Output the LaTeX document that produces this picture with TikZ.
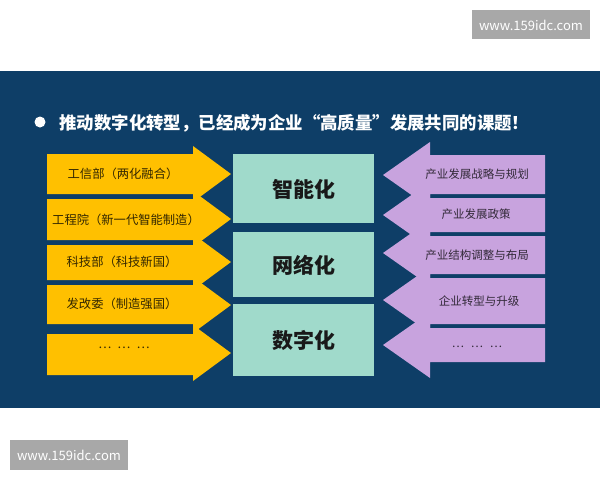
\documentclass[tikz,border=0pt]{standalone}
\usepackage{fontspec}
\usepackage{xcolor}
\usetikzlibrary{calc,positioning}
\newfontfamily\cjk{Noto Sans CJK SC}
\definecolor{panelblue}{HTML}{0E3E67}
\definecolor{goldarrow}{HTML}{FFC000}
\definecolor{mintbox}{HTML}{A0DACB}
\definecolor{lilacarrow}{HTML}{C8A3DE}
\definecolor{markgray}{HTML}{A8A8A8}

\begin{document}
\begin{tikzpicture}[x=1pt, y=-1pt,
	goldshape/.style={fill=goldarrow, draw=none},
	lilacshape/.style={fill=lilacarrow, draw=none},
	mintshape/.style={fill=mintbox, draw=none},
	goldtext/.style={font=\cjk\fontsize{12.3}{14}\selectfont, text=black!80!goldarrow},
	lilactext/.style={font=\cjk\fontsize{11.5}{14}\selectfont, text=black!75!lilacarrow},
	minttext/.style={font=\cjk\bfseries\fontsize{21}{24}\selectfont, text=black!90},
	marktext/.style={font=\cjk\fontsize{13}{14}\selectfont, text=white}]
			\useasboundingbox (0,0) rectangle (600,480);
			\fill [white] (0,0) rectangle (600,480);
			\fill [panelblue] (0,71) rectangle (600,408);
			\fill [markgray] (472,10) rectangle (590,39);
			\fill [markgray] (10,440) rectangle (128,470);
			\node [marktext] (markTop) at (531,25) {www.159idc.com};
			\node [marktext] (markBottom) at (69,455) {www.159idc.com};
			\fill [white] (40,122) circle (5.5);
			\node [anchor=west, font=\cjk\bfseries\fontsize{17.4}{20}\selectfont, text=white] (title) at (56,123) {推动数字化转型，已经成为企业“高质量”发展共同的课题！};
			\fill [goldshape] (47,334) -- (193,334) -- (193,325) -- (231,353) -- (193,381) -- (193,375) -- (47,375) -- cycle;
			\fill [goldshape] (47,285) -- (193,285) -- (193,277) -- (231,305) -- (193,333) -- (193,324) -- (47,324) -- cycle;
			\fill [goldshape] (47,245) -- (193,245) -- (193,234) -- (231,262) -- (193,290) -- (193,280) -- (47,280) -- cycle;
			\fill [goldshape] (47,199) -- (193,199) -- (193,191) -- (231,219) -- (193,247) -- (193,240) -- (47,240) -- cycle;
			\fill [goldshape] (47,154) -- (193,154) -- (193,146) -- (231,174) -- (193,202) -- (193,194) -- (47,194) -- cycle;
			\fill [lilacshape] (545,328) -- (430,328) -- (430,312) -- (383,345) -- (430,378) -- (430,362) -- (545,362) -- cycle;
			\fill [lilacshape] (545,278) -- (430,278) -- (430,267) -- (383,300) -- (430,333) -- (430,324) -- (545,324) -- cycle;
			\fill [lilacshape] (545,236) -- (430,236) -- (430,220) -- (383,253) -- (430,286) -- (430,274) -- (545,274) -- cycle;
			\fill [lilacshape] (545,198) -- (430,198) -- (430,182) -- (383,215) -- (430,248) -- (430,232) -- (545,232) -- cycle;
			\fill [lilacshape] (545,155) -- (430,155) -- (430,142) -- (383,175) -- (430,208) -- (430,194) -- (545,194) -- cycle;
			\fill [mintshape] (233,154) rectangle (374,223);
			\fill [mintshape] (233,232) rectangle (374,297);
			\fill [mintshape] (233,304) rectangle (374,376);
			\node [minttext] (smart) at (303.5,189) {智能化};
			\node [minttext] (network) at (303.5,265) {网络化};
			\node [minttext] (digital) at (303.5,340) {数字化};
			\node [goldtext] (miit) at (123,174) {工信部（两化融合）};
			\node [goldtext] (cae) at (126,220) {工程院（新一代智能制造）};
			\node [goldtext] (most) at (122,262) {科技部（科技新国）};
			\node [goldtext] (ndrc) at (122,304) {发改委（制造强国）};
			\node [goldtext] (leftMore) at (124,348) {…\hspace{0.5em}…\hspace{0.5em}…};
			\node [lilactext] (strategy) at (477,174) {产业发展战略与规划};
			\node [lilactext] (policy) at (476,214) {产业发展政策};
			\node [lilactext] (layout) at (477,255) {产业结构调整与布局};
			\node [lilactext] (upgrade) at (479,301) {企业转型与升级};
			\node [lilactext] (rightMore) at (477,347) {…\hspace{0.6em}…\hspace{0.6em}…};
	\end{tikzpicture}
\end{document}
